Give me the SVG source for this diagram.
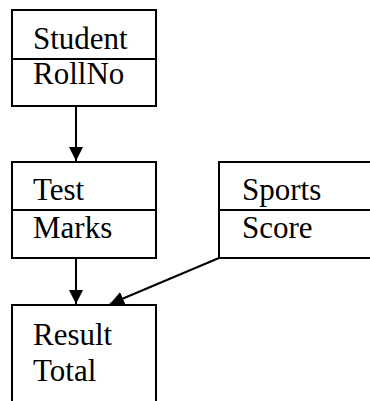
<svg xmlns="http://www.w3.org/2000/svg" width="370" height="401" viewBox="0 0 370 401">
  <defs>
    <style>
      .box { fill: #fff; stroke: #000; stroke-width: 2; }
      .div { stroke: #000; stroke-width: 2; }
      .edge { stroke: #000; stroke-width: 2; fill: none; marker-end: url(#arrow); }
    </style>
    <marker id="arrow" viewBox="0 0 14 16" refX="14" refY="7" markerWidth="14" markerHeight="16" markerUnits="userSpaceOnUse" orient="auto">
      <path d="M0,0 L14,7 L0,14 Z" fill="#000"/>
    </marker>
  </defs>
  <rect width="370" height="401" fill="#fff"/>

  <g font-family="Liberation Serif, Tinos, DejaVu Serif, serif" font-size="31" fill="#000">
    <g id="student">
      <rect class="box" x="12" y="10" width="144" height="96"/>
      <line class="div" x1="12" y1="59" x2="156" y2="59"/>
      <text x="33" y="49">Student</text>
      <text x="33" y="84">RollNo</text>
    </g>

    <g id="test">
      <rect class="box" x="12" y="162" width="144" height="96"/>
      <line class="div" x1="12" y1="210" x2="156" y2="210"/>
      <text x="33" y="200">Test</text>
      <text x="33" y="238">Marks</text>
    </g>

    <g id="sports">
      <rect class="box" x="219" y="162" width="170" height="96"/>
      <line class="div" x1="219" y1="210" x2="389" y2="210"/>
      <text x="242" y="200">Sports</text>
      <text x="242" y="238">Score</text>
    </g>

    <g id="result">
      <rect class="box" x="12" y="305" width="144" height="120"/>
      <text x="33" y="345">Result</text>
      <text x="33" y="381">Total</text>
    </g>
  </g>

  <g id="connectors">
    <line class="edge" x1="76" y1="106" x2="76" y2="161"/>
    <line class="edge" x1="76" y1="258" x2="76" y2="304"/>
    <line class="edge" x1="219" y1="258" x2="110" y2="304"/>
  </g>
</svg>
